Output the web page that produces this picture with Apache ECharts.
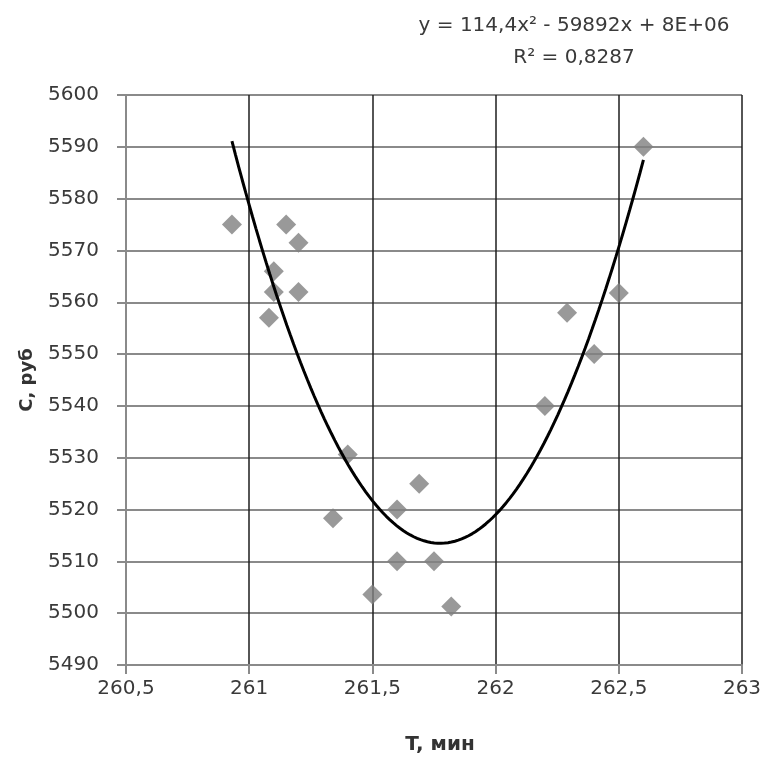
<!DOCTYPE html>
<html>
<head>
<meta charset="utf-8">
<script src="https://cdn.jsdelivr.net/npm/echarts@6/dist/echarts.min.js"></script>
<style>
html,body{margin:0;padding:0;background:#fff;}
#chart{width:760px;height:760px;}
</style>
</head>
<body>
<div id="chart"></div>
<script>
// Data
const tValues = [260.93, 261.15, 261.20, 261.10, 261.10, 261.20, 261.08, 261.40, 261.34, 261.69,
                 261.60, 261.60, 261.75, 261.50, 261.82, 262.20, 262.29, 262.40, 262.50, 262.60];
const cValues = [5575, 5575, 5571.5, 5566, 5562, 5562, 5557, 5530.6, 5518.3, 5525,
                 5520, 5510, 5510, 5503.6, 5501.3, 5540, 5558, 5550, 5561.8, 5590];
const xTicks = [260.5, 261, 261.5, 262, 262.5, 263];
const yTicks = [5490, 5600];
const trendLabel = ['y = 114,4x² - 59892x + 8E+06', 'R² = 0,8287'];
const xName = 'T, мин';
const yName = 'C, руб';

// Least-squares quadratic trendline (like Excel's polynomial trendline, order 2)
function quadFit(xs, ys) {
  const n = xs.length;
  const xm = xs.reduce((a, b) => a + b, 0) / n;
  let s = [0, 0, 0, 0, 0], t = [0, 0, 0];
  for (let i = 0; i < n; i++) {
    const u = xs[i] - xm;
    let p = 1;
    for (let k = 0; k < 5; k++) { s[k] += p; p *= u; }
    t[0] += ys[i]; t[1] += ys[i] * u; t[2] += ys[i] * u * u;
  }
  const M = [[s[0], s[1], s[2], t[0]], [s[1], s[2], s[3], t[1]], [s[2], s[3], s[4], t[2]]];
  for (let c = 0; c < 3; c++) {
    for (let r = c + 1; r < 3; r++) {
      const f = M[r][c] / M[c][c];
      for (let k = c; k < 4; k++) M[r][k] -= f * M[c][k];
    }
  }
  const b = [0, 0, 0];
  for (let r = 2; r >= 0; r--) {
    let v = M[r][3];
    for (let k = r + 1; k < 3; k++) v -= M[r][k] * b[k];
    b[r] = v / M[r][r];
  }
  return x => { const u = x - xm; return b[0] + b[1] * u + b[2] * u * u; };
}
const fit = quadFit(tValues, cValues);
const tMin = Math.min(...tValues), tMax = Math.max(...tValues);
const trend = [];
for (let i = 0; i <= 120; i++) {
  const x = tMin + (tMax - tMin) * i / 120;
  trend.push([x, fit(x)]);
}
const points = tValues.map((t, i) => [t, cValues[i]]);

const FONT = '"DejaVu Sans", "Open Sans", sans-serif';
const chart = echarts.init(document.getElementById('chart'), null, {renderer: 'canvas'});
chart.setOption({
  animation: false,
  backgroundColor: '#ffffff',
  grid: {left: 126, right: 18, top: 95, bottom: 95, containLabel: false, outerBoundsMode: 'none'},
  graphic: [
    {type: 'text', x: 574, y: 26, style: {text: trendLabel[0], font: '20px ' + FONT, fill: '#3a3a3a', align: 'center', verticalAlign: 'middle'}},
    {type: 'text', x: 574, y: 58, style: {text: trendLabel[1], font: '20px ' + FONT, fill: '#3a3a3a', align: 'center', verticalAlign: 'middle'}}
  ],
  xAxis: {
    type: 'value',
    min: xTicks[0], max: xTicks[xTicks.length - 1], interval: 0.5,
    name: xName, nameLocation: 'middle', nameGap: 70,
    nameTextStyle: {fontFamily: FONT, fontSize: 20, fontWeight: 'bold', color: '#333', padding: [0, 0, 0, 12]},
    axisLine: {show: true, onZero: false, lineStyle: {color: '#8a8a8a', width: 2}},
    axisTick: {show: true, inside: false, length: 9, lineStyle: {color: '#8a8a8a', width: 2}},
    axisLabel: {margin: 14, fontFamily: FONT, fontSize: 20, color: '#3a3a3a',
      formatter: v => String(v).replace('.', ','), showMaxLabel: true, showMinLabel: true},
    splitLine: {show: true, lineStyle: {color: '#1e1e1e', width: 1.5}}
  },
  yAxis: {
    type: 'value',
    min: yTicks[0], max: yTicks[1], interval: 10,
    name: yName, nameLocation: 'middle', nameGap: 90, nameRotate: 90,
    nameTextStyle: {fontFamily: FONT, fontSize: 18, fontWeight: 'bold', color: '#333'},
    axisLine: {show: true, lineStyle: {color: '#8a8a8a', width: 2}},
    axisTick: {show: true, inside: false, length: 9, lineStyle: {color: '#8a8a8a', width: 2}},
    axisLabel: {margin: 27, fontFamily: FONT, fontSize: 20, color: '#3a3a3a', formatter: v => String(v)},
    splitLine: {show: true, lineStyle: {color: '#8a8a8a', width: 2}}
  },
  series: [
    {
      type: 'scatter', data: points, symbol: 'diamond', symbolSize: 20,
      itemStyle: {color: '#7f7f7f'}, z: 3
    },
    {
      type: 'line', data: trend, showSymbol: false, symbol: 'none', smooth: false,
      lineStyle: {color: '#000', width: 3}, z: 4
    }
  ]
});
</script>
</body>
</html>
